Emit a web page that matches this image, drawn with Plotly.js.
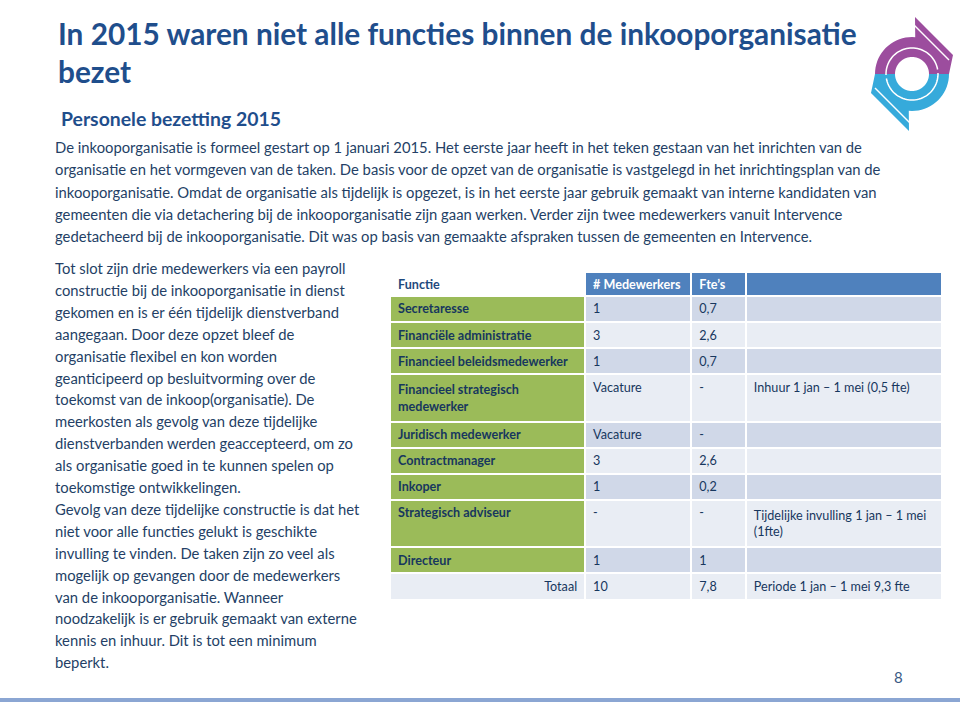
<!DOCTYPE html>
<html><head><meta charset="utf-8">
<script src="https://cdn.plot.ly/plotly-3.0.1.min.js"></script>
<style>html,body{margin:0;padding:0;background:#fff}#chart{width:960px;height:702px}</style>
</head><body><div id="chart"></div>
<script>
// ---------- data ----------
const titleLines = ["In 2015 waren niet alle functies binnen de inkooporganisatie", "bezet"];
const subtitle = "Personele bezetting 2015";
const introLines = [
  "De inkooporganisatie is formeel gestart op 1 januari 2015. Het eerste jaar heeft in het teken gestaan van het inrichten van de",
  "organisatie en het vormgeven van de taken. De basis voor de opzet van de organisatie is vastgelegd in het inrichtingsplan van de",
  "inkooporganisatie. Omdat de organisatie als tijdelijk is opgezet, is in het eerste jaar gebruik gemaakt van interne kandidaten van",
  "gemeenten die via detachering bij de inkooporganisatie zijn gaan werken. Verder zijn twee medewerkers vanuit Intervence",
  "gedetacheerd bij de inkooporganisatie. Dit was op basis van gemaakte afspraken tussen de gemeenten en Intervence."
];
const sideLines = [
  "Tot slot zijn drie medewerkers via een payroll",
  "constructie bij de inkooporganisatie in dienst",
  "gekomen en is er één tijdelijk dienstverband",
  "aangegaan. Door deze opzet bleef de",
  "organisatie flexibel en kon worden",
  "geanticipeerd op besluitvorming over de",
  "toekomst van de inkoop(organisatie). De",
  "meerkosten als gevolg van deze tijdelijke",
  "dienstverbanden werden geaccepteerd, om zo",
  "als organisatie goed in te kunnen spelen op",
  "toekomstige ontwikkelingen.",
  "Gevolg van deze tijdelijke constructie is dat het",
  "niet voor alle functies gelukt is geschikte",
  "invulling te vinden. De taken zijn zo veel als",
  "mogelijk op gevangen door de medewerkers",
  "van de inkooporganisatie. Wanneer",
  "noodzakelijk is er gebruik gemaakt van externe",
  "kennis en inhuur. Dit is tot een minimum",
  "beperkt."
];
const headers = ["Functie", "# Medewerkers", "Fte’s", ""];
const functies = ["Secretaresse", "Financiële administratie", "Financieel beleidsmedewerker",
  "Financieel strategisch<br>medewerker", "Juridisch medewerker", "Contractmanager", "Inkoper",
  "Strategisch adviseur", "Directeur"];
const medewerkers = ["1", "3", "1", "Vacature", "Vacature", "3", "1", "-", "1"];
const ftes = ["0,7", "2,6", "0,7", "-", "-", "2,6", "0,2", "-", "1"];
const opmerkingen = ["", "", "", "Inhuur 1 jan – 1 mei (0,5 fte)", "", "", "",
  "Tijdelijke invulling 1 jan – 1 mei<br>(1fte)", ""];
const totaalLabel = "Totaal";
const totaalMedewerkers = "10";
const totaalFte = "7,8";
const totaalOpmerking = "Periode 1 jan – 1 mei 9,3 fte";
const pageNumber = "8";

// ---------- styling ----------
const W = 960, H = 702;
const X = p => p / W, Y = p => 1 - p / H;
const FONT = "Lato, 'Open Sans', sans-serif";
const titleColor = "#1F4E8C";
const textColor = "#243F66";
const cellText = "#17375E";
const green = "#9BBB59", blue = "#4F81BD", dark = "#D0D8E8", light = "#E9EDF4";

const annotations = [];
function addText(text, x, y, size, color, bold) {
  annotations.push({xref: 'paper', yref: 'paper', x: X(x), y: Y(y), xanchor: 'left', yanchor: 'middle',
    showarrow: false, text: bold ? '<b>' + text + '</b>' : text, font: {family: FONT, size: size, color: color}});
}
titleLines.forEach((t, i) => addText(t, 56, 34 + i * 38, 29.8, titleColor, true));
addText(subtitle, 59, 118, 19.4, titleColor, true);
introLines.forEach((t, i) => addText(t, 53, 147 + i * 22.3, 14.8, textColor, false));
sideLines.forEach((t, i) => addText(t, 53, 268 + i * 21.9, 14.8, textColor, false));
annotations.push({xref: 'paper', yref: 'paper', x: X(898), y: Y(677), xanchor: 'center', yanchor: 'middle',
  showarrow: false, text: pageNumber, font: {family: FONT, size: 15, color: "#3A5A85"}});

// ---------- table ----------
const n = functies.length;
const nb = s => s.replace(/ /g, '\u00A0');   // keep rows at their declared height
const col1 = functies.concat([totaalLabel]).map(nb);
const col2 = medewerkers.concat([totaalMedewerkers]).map(nb);
const col3 = ftes.concat([totaalFte]).map(nb);
const col4 = opmerkingen.concat([totaalOpmerking]).map(nb);
const rowFill = col1.map((_, i) => (i % 2 === 0 ? dark : light));
const firstFill = col1.map((_, i) => (i < n ? green : light));
const firstAlign = col1.map((_, i) => (i < n ? 'left' : 'right'));
const firstWeight = col1.map((_, i) => (i < n ? 700 : 400));

const table = {
  type: 'table',
  domain: {x: [X(390), X(942)], y: [Y(660), Y(272)]},
  columnwidth: [193, 105, 54, 194],
  header: {
    values: headers.map(nb),
    fill: {color: ['#FFFFFF', blue, blue, blue]},
    font: {family: FONT, size: 12.6, weight: 700, color: ['#1F497D', '#FFFFFF', '#FFFFFF', '#FFFFFF']},
    align: 'left', height: 24, line: {color: '#FFFFFF', width: 2}
  },
  cells: {
    values: [col1, col2, col3, col4],
    fill: {color: [firstFill, rowFill, rowFill, rowFill]},
    font: {family: FONT, size: 12.6, color: cellText, weight: [firstWeight, 400, 400, 400]},
    align: [firstAlign, 'left', 'left', 'left'],
    height: 26.1, line: {color: '#FFFFFF', width: 2}
  }
};

// ---------- logo & decorations ----------
function logoPath(cx, cy, sign) {
  const pts = [];
  const P = (dx, dy) => pts.push([cx + sign * dx, cy + sign * dy]);
  const rO = 37, rI = 17;
  for (let a = 180; a >= 85; a -= 5) P(rO * Math.cos(a * Math.PI / 180), -rO * Math.sin(a * Math.PI / 180));
  P(3, -57); P(41, -19); P(37, 0);
  for (let a = 0; a <= 180; a += 5) P(rI * Math.cos(a * Math.PI / 180), -rI * Math.sin(a * Math.PI / 180));
  return 'M' + pts.map(p => X(p[0]).toFixed(5) + ',' + Y(p[1]).toFixed(5)).join('L') + 'Z';
}
function gapPath(cx, cy, sign) {
  const pts = [];
  const P = (dx, dy) => pts.push([cx + sign * dx, cy + sign * dy]);
  const r = 26;
  for (let a = 182; a >= 10; a -= 4) P(r * Math.cos(a * Math.PI / 180), -r * Math.sin(a * Math.PI / 180));
  return 'M' + pts.map(p => X(p[0]).toFixed(5) + ',' + Y(p[1]).toFixed(5)).join('L');
}
function tailGap(cx, cy, sign) {
  const a = [cx + sign * 2, cy + sign * -49], b = [cx + sign * 37, cy + sign * -14];
  return 'M' + X(a[0]) + ',' + Y(a[1]) + 'L' + X(b[0]) + ',' + Y(b[1]);
}
const cx = 912, cy = 74;
const purple = "#9C4D9E", cyan = "#36AADB";
const shapes = [
  {type: 'path', xref: 'paper', yref: 'paper', path: logoPath(cx, cy, 1), fillcolor: purple, line: {width: 0}},
  {type: 'path', xref: 'paper', yref: 'paper', path: logoPath(cx, cy, -1), fillcolor: cyan, line: {width: 0}},
  {type: 'path', xref: 'paper', yref: 'paper', path: gapPath(cx, cy, 1), line: {color: '#FFFFFF', width: 1.5}},
  {type: 'path', xref: 'paper', yref: 'paper', path: gapPath(cx, cy, -1), line: {color: '#FFFFFF', width: 1.5}},
  {type: 'path', xref: 'paper', yref: 'paper', path: tailGap(cx, cy, 1), line: {color: '#FFFFFF', width: 1.5}},
  {type: 'path', xref: 'paper', yref: 'paper', path: tailGap(cx, cy, -1), line: {color: '#FFFFFF', width: 1.5}},
  {type: 'rect', xref: 'paper', yref: 'paper', x0: 0, x1: 1, y0: Y(702), y1: Y(698), fillcolor: '#8BA6D3', line: {width: 0}}
];

const layout = {
  width: W, height: H, margin: {l: 0, r: 0, t: 0, b: 0},
  paper_bgcolor: '#FFFFFF', plot_bgcolor: '#FFFFFF',
  showlegend: false, annotations: annotations, shapes: shapes,
  font: {family: FONT}
};
Plotly.newPlot('chart', [table], layout, {displayModeBar: false, staticPlot: true});
</script>
</body></html>
